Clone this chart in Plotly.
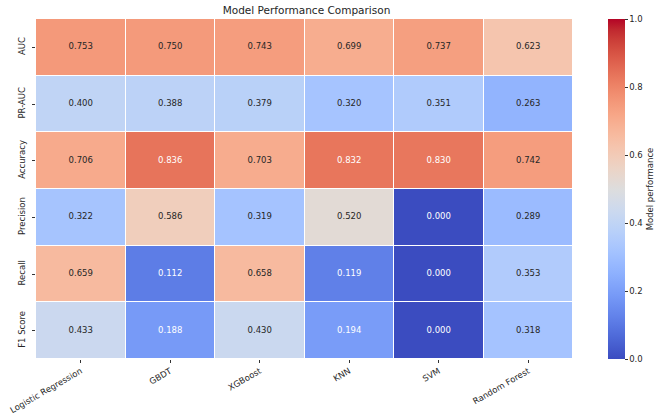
import plotly.graph_objects as go

models = ["Logistic Regression", "GBDT", "XGBoost", "KNN", "SVM", "Random Forest"]
metrics = ["AUC", "PR-AUC", "Accuracy", "Precision", "Recall", "F1 Score"]

auc = [0.753, 0.750, 0.743, 0.699, 0.737, 0.623]
pr_auc = [0.400, 0.388, 0.379, 0.320, 0.351, 0.263]
accuracy = [0.706, 0.836, 0.703, 0.832, 0.830, 0.742]
precision = [0.322, 0.586, 0.319, 0.520, 0.000, 0.289]
recall = [0.659, 0.112, 0.658, 0.119, 0.000, 0.353]
f1 = [0.433, 0.188, 0.430, 0.194, 0.000, 0.318]

z = [auc, pr_auc, accuracy, precision, recall, f1]

# Moreland coolwarm table (as used by matplotlib)
cw_rgb = [
    (59, 76, 192), (68, 90, 204), (77, 104, 215), (87, 117, 225), (98, 130, 234),
    (108, 142, 241), (119, 154, 247), (130, 165, 251), (141, 176, 254),
    (152, 185, 255), (163, 194, 255), (174, 201, 253), (184, 208, 249),
    (194, 213, 244), (204, 217, 238), (213, 219, 230), (221, 221, 221),
    (229, 216, 209), (236, 211, 197), (241, 204, 185), (245, 196, 173),
    (247, 187, 160), (247, 177, 148), (247, 166, 135), (244, 154, 123),
    (241, 141, 111), (236, 127, 99), (229, 112, 88), (222, 96, 77),
    (213, 80, 66), (203, 62, 56), (192, 40, 47), (180, 4, 38),
]
n = len(cw_rgb) - 1
coolwarm = [[i / n, "rgb(%d,%d,%d)" % c] for i, c in enumerate(cw_rgb)]


def color_at(v):
    p = v * n
    i = min(int(p), n - 1)
    f = p - i
    a, b = cw_rgb[i], cw_rgb[i + 1]
    return [(a[k] + (b[k] - a[k]) * f) / 255 for k in range(3)]


def luminance(rgb):
    lin = [c / 12.92 if c <= 0.03928 else ((c + 0.055) / 1.055) ** 2.4 for c in rgb]
    return 0.2126 * lin[0] + 0.7152 * lin[1] + 0.0722 * lin[2]


FS = 8.5

fig = go.Figure()
fig.add_trace(go.Heatmap(
    z=z, x=models, y=metrics, zmin=0, zmax=1, colorscale=coolwarm,
    xgap=1, ygap=1, hoverinfo="skip",
    colorbar=dict(
        title=dict(text="Model performance", side="right",
                   font=dict(size=FS, color="#262626")),
        thickness=17, len=340, lenmode="pixels", x=(612 - 36) / 541,
        xanchor="left", xpad=0, ypad=0,
        y=1, yanchor="top", yref="paper",
        tickvals=[0, 0.2, 0.4, 0.6, 0.8, 1.0], tickformat=".1f",
        ticks="outside", ticklen=3, tickcolor="#333",
        tickfont=dict(size=FS, color="#262626"), outlinewidth=0,
    ),
))

tx, ty, tt, tc = [], [], [], []
for row, name in zip(z, metrics):
    for m, v in zip(models, row):
        tx.append(m)
        ty.append(name)
        tt.append(f"{v:.3f}")
        tc.append("#262626" if luminance(color_at(v)) > 0.408 else "white")

fig.add_trace(go.Scatter(
    x=tx, y=ty, text=tt, mode="text", textfont=dict(size=FS, color=tc),
    hoverinfo="skip", showlegend=False,
))

fig.update_layout(
    width=666, height=420,
    margin=dict(l=36, r=89, t=19, b=61),
    paper_bgcolor="white", plot_bgcolor="white",
    font=dict(family="DejaVu Sans", size=FS, color="#262626"),
    title=dict(text="Model Performance Comparison", x=(36 + 577) / 2 / 666,
               xanchor="center", xref="container",
               y=1 - 10 / 420, yref="container", yanchor="middle",
               font=dict(size=10.5, color="#262626")),
    showlegend=False,
)
fig.update_xaxes(tickangle=-30, ticks="outside", ticklen=3, tickcolor="#333",
                 showgrid=False, zeroline=False, showline=False, automargin=False,
                 tickfont=dict(size=FS))
fig.update_yaxes(autorange="reversed", tickangle=-90, ticks="outside",
                 ticklen=3, tickcolor="#333", showgrid=False, zeroline=False,
                 showline=False, automargin=False, tickfont=dict(size=FS),
                 ticklabelstandoff=4)

fig.write_html("out.html")
